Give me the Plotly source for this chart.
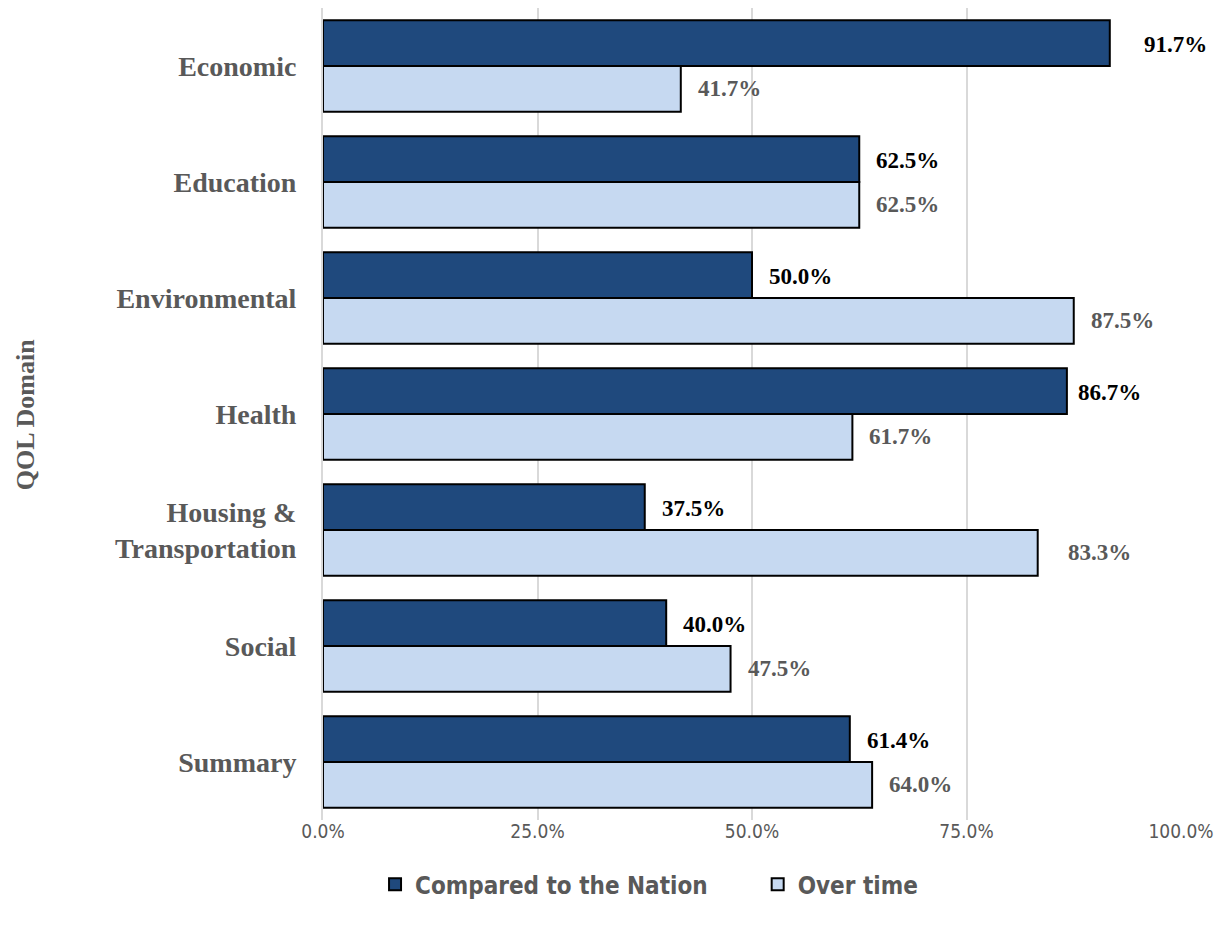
import plotly.graph_objects as go

categories = ["Economic", "Education", "Environmental", "Health",
              "Housing &<br>Transportation", "Social", "Summary"]
nation = [91.7, 62.5, 50.0, 86.7, 37.5, 40.0, 61.4]
over_time = [41.7, 62.5, 87.5, 61.7, 83.3, 47.5, 64.0]
tick_vals = [0, 25, 50, 75, 100]
tick_text = ["0.0%", "25.0%", "50.0%", "75.0%", "100.0%"]

DARK = "#1F497D"
LIGHT = "#C6D9F1"
GREY = "#595959"
SANS = "DejaVu Sans Condensed, Roboto, sans-serif"
SERIF = "Liberation Serif, Times New Roman, serif"

fig = go.Figure()
fig.add_trace(go.Bar(y=categories, x=nation, orientation="h",
                     name="Compared to the Nation" + "\u00a0" * 6,
                     marker=dict(color=DARK, line=dict(color="black", width=2))))
fig.add_trace(go.Bar(y=categories, x=over_time, orientation="h", name="Over time",
                     marker=dict(color=LIGHT, line=dict(color="black", width=2))))

# label nudges (pixels) as placed in the original
nudge_nation = {0: 17, 3: -6}
nudge_over = {4: 13}
for i, c in enumerate(categories):
    fig.add_annotation(x=nation[i], y=c, text=f"<b>{nation[i]:.1f}%</b>", showarrow=False,
                       xanchor="left", yanchor="middle", xshift=15 + nudge_nation.get(i, 0), yshift=22,
                       font=dict(family=SERIF, size=23, color="black"))
    fig.add_annotation(x=over_time[i], y=c, text=f"<b>{over_time[i]:.1f}%</b>", showarrow=False,
                       xanchor="left", yanchor="middle", xshift=15 + nudge_over.get(i, 0), yshift=-22,
                       font=dict(family=SERIF, size=23, color=GREY))

fig.add_annotation(xref="paper", yref="paper", x=-0.347, y=0.5, text="<b>QOL Domain</b>",
                   textangle=-90, showarrow=False, xanchor="center", yanchor="middle",
                   font=dict(family=SERIF, size=26, color=GREY))

fig.update_layout(
    width=1226, height=928,
    margin=dict(l=315, r=53, t=0, b=116),
    barmode="group", bargap=0.21, bargroupgap=0,
    plot_bgcolor="white", paper_bgcolor="white",
    showlegend=True,
    legend=dict(orientation="h", x=0.38, xanchor="center", y=-0.052, yanchor="top",
                traceorder="normal", itemwidth=30,
                font=dict(family=SANS, size=24, color=GREY, weight="bold")),
    xaxis=dict(range=[0, 100], tickvals=tick_vals, ticktext=tick_text, automargin=False,
               showgrid=True, gridcolor="#D9D9D9", gridwidth=2, zeroline=False,
               tickfont=dict(family=SANS, size=19, color=GREY),
               ticks="", showline=False, ticklabelstandoff=-2),
    yaxis=dict(autorange="reversed", showline=True, linecolor="#D9D9D9", linewidth=2,
               ticks="", ticklabelstandoff=19, automargin=False,
               tickfont=dict(family=SERIF, size=28, color=GREY, weight="bold")),
)

fig.write_html("out.html")
